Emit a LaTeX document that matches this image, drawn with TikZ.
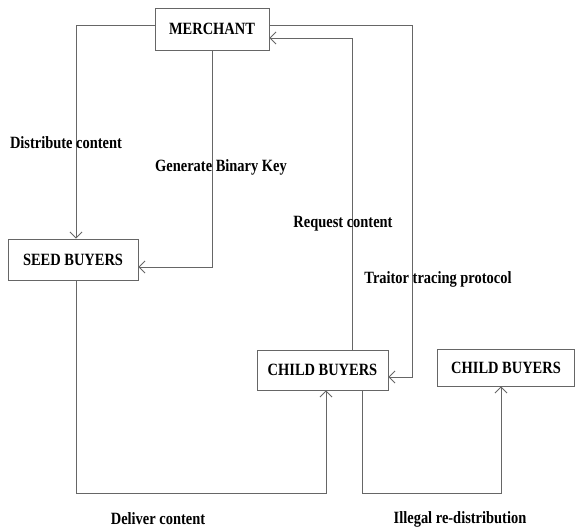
\documentclass[tikz,border=0pt]{standalone}
\usepackage{fontspec}
\usetikzlibrary{arrows.meta}
\newfontfamily\labfont[FakeStretch=0.84]{Liberation Serif Bold}
\begin{document}
\begin{tikzpicture}[x=1pt,y=-1pt,
  box/.style={draw=black!60, line width=0.9pt, inner sep=0pt, font=\labfont\fontsize{17.2}{18}\selectfont},
  lab/.style={inner sep=0pt, font=\labfont\fontsize{17.2}{18}\selectfont},
  conn/.style={draw=black!60, line width=0.9pt},
  arr/.style={conn, -{Straight Barb[length=6pt,width=12pt,line width=0.9pt]}}]
\useasboundingbox (0,0) rectangle (576,530);
\node[box, minimum width=114pt, minimum height=42pt] (M) at (212,29) {MERCHANT};
\node[box, minimum width=130pt, minimum height=41pt] (S) at (73,259.5) {SEED BUYERS};
\node[box, minimum width=131pt, minimum height=40pt] (C1) at (322.5,370) {CHILD BUYERS};
\node[box, minimum width=137pt, minimum height=37pt] (C2) at (506,367.5) {CHILD BUYERS};

\draw[arr] ([yshift=4pt]M.west) -| ([xshift=3pt]S.north);
\draw[arr] (M.south) |- ([yshift=-7.5pt]S.east);
\draw[arr] ([yshift=4pt]M.east) -- ++(143,0) |- ([yshift=-7pt]C1.east);
\draw[arr] ([xshift=29.5pt]C1.north) |- ([yshift=-9pt]M.east);
\draw[arr] ([xshift=3pt]S.south) -- ++(0,213) -| ([xshift=3.5pt]C1.south);
\draw[arr] ([xshift=39.5pt]C1.south) -- ++(0,103) -| ([xshift=-5pt]C2.south);

\node[lab] (l1) at (66,143) {Distribute content};
\node[lab] (l2) at (221,167) {Generate Binary Key};
\node[lab] (l3) at (343,224) {Request content};
\node[lab] (l4) at (438,279) {Traitor tracing protocol};
\node[lab] (l5) at (158,519) {Deliver content};
\node[lab] (l6) at (460,519) {Illegal re-distribution};
\end{tikzpicture}
\end{document}
